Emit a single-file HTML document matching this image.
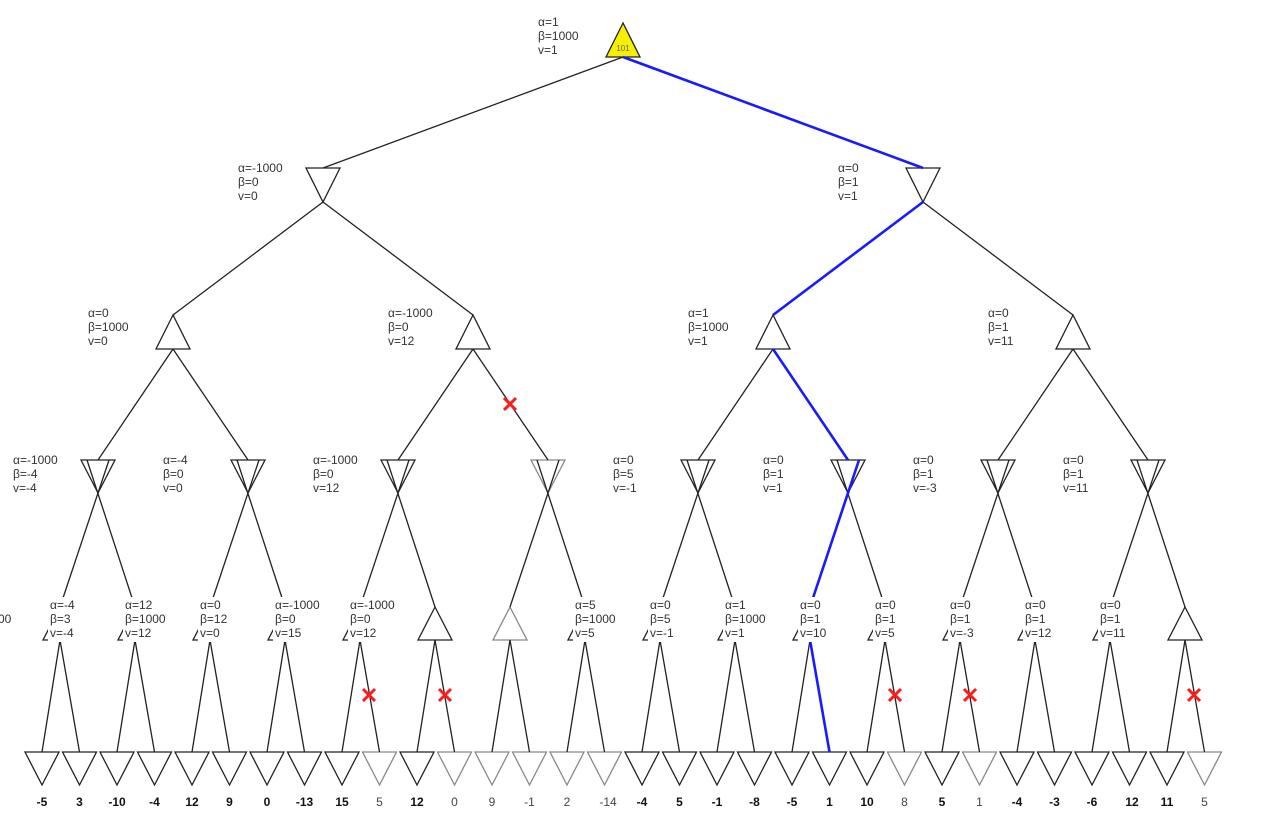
<!DOCTYPE html>
<html><head><meta charset="utf-8"><style>
html,body{margin:0;padding:0;background:#fff;}
svg text{font-family:"Liberation Sans",sans-serif;font-size:12px;fill:#333;}
.lf{font-weight:bold;fill:#111;text-anchor:middle;}
.lg{fill:#444;text-anchor:middle;}
</style></head><body>
<svg width="1273" height="826" viewBox="0 0 1273 826" xmlns="http://www.w3.org/2000/svg">
<g stroke="#222" stroke-width="1.3" fill="#fff">
<polygon points="306,168 340,168 323,202"/>
<polygon points="906,168 940,168 923,202"/>
<polygon points="173,315 156,349 190,349"/>
<polygon points="473,315 456,349 490,349"/>
<polygon points="773,315 756,349 790,349"/>
<polygon points="1073,315 1056,349 1090,349"/>
<polygon points="81,460 115,460 98,493"/>
<polygon points="231,460 265,460 248,493"/>
<polygon points="381,460 415,460 398,493"/>
<polygon points="531,460 565,460 548,493" stroke="#888"/>
<polygon points="681,460 715,460 698,493"/>
<polygon points="831,460 865,460 848,493"/>
<polygon points="981,460 1015,460 998,493"/>
<polygon points="1131,460 1165,460 1148,493"/>
<polygon points="60,607 43,640 77,640"/>
<polygon points="135,607 118,640 152,640"/>
<polygon points="210,607 193,640 227,640"/>
<polygon points="285,607 268,640 302,640"/>
<polygon points="360,607 343,640 377,640"/>
<polygon points="435,607 418,640 452,640"/>
<polygon points="510,607 493,640 527,640" stroke="#888"/>
<polygon points="585,607 568,640 602,640"/>
<polygon points="660,607 643,640 677,640"/>
<polygon points="735,607 718,640 752,640"/>
<polygon points="810,607 793,640 827,640"/>
<polygon points="885,607 868,640 902,640"/>
<polygon points="960,607 943,640 977,640"/>
<polygon points="1035,607 1018,640 1052,640"/>
<polygon points="1110,607 1093,640 1127,640"/>
<polygon points="1185,607 1168,640 1202,640"/>
<polygon points="25,752 59,752 42,785"/>
<polygon points="62.5,752 96.5,752 79.5,785"/>
<polygon points="100,752 134,752 117,785"/>
<polygon points="137.5,752 171.5,752 154.5,785"/>
<polygon points="175,752 209,752 192,785"/>
<polygon points="212.5,752 246.5,752 229.5,785"/>
<polygon points="250,752 284,752 267,785"/>
<polygon points="287.5,752 321.5,752 304.5,785"/>
<polygon points="325,752 359,752 342,785"/>
<polygon points="362.5,752 396.5,752 379.5,785" stroke="#888"/>
<polygon points="400,752 434,752 417,785"/>
<polygon points="437.5,752 471.5,752 454.5,785" stroke="#888"/>
<polygon points="475,752 509,752 492,785" stroke="#888"/>
<polygon points="512.5,752 546.5,752 529.5,785" stroke="#888"/>
<polygon points="550,752 584,752 567,785" stroke="#888"/>
<polygon points="587.5,752 621.5,752 604.5,785" stroke="#888"/>
<polygon points="625,752 659,752 642,785"/>
<polygon points="662.5,752 696.5,752 679.5,785"/>
<polygon points="700,752 734,752 717,785"/>
<polygon points="737.5,752 771.5,752 754.5,785"/>
<polygon points="775,752 809,752 792,785"/>
<polygon points="812.5,752 846.5,752 829.5,785"/>
<polygon points="850,752 884,752 867,785"/>
<polygon points="887.5,752 921.5,752 904.5,785" stroke="#888"/>
<polygon points="925,752 959,752 942,785"/>
<polygon points="962.5,752 996.5,752 979.5,785" stroke="#888"/>
<polygon points="1000,752 1034,752 1017,785"/>
<polygon points="1037.5,752 1071.5,752 1054.5,785"/>
<polygon points="1075,752 1109,752 1092,785"/>
<polygon points="1112.5,752 1146.5,752 1129.5,785"/>
<polygon points="1150,752 1184,752 1167,785"/>
<polygon points="1187.5,752 1221.5,752 1204.5,785" stroke="#888"/>
</g>
<polygon points="623,23 606,57 640,57" fill="#f5f000" stroke="#222" stroke-width="1.3"/>
<text x="623" y="51" style="font-size:8px;fill:#666;text-anchor:middle">101</text>
<g stroke="#222" stroke-width="1.3" fill="none">
<line x1="623" y1="57" x2="323" y2="168"/>
<line x1="323" y1="202" x2="173" y2="315"/>
<line x1="323" y1="202" x2="473" y2="315"/>
<line x1="923" y1="202" x2="1073" y2="315"/>
<line x1="173" y1="349" x2="98" y2="460"/>
<line x1="173" y1="349" x2="248" y2="460"/>
<line x1="473" y1="349" x2="398" y2="460"/>
<line x1="473" y1="349" x2="548" y2="460"/>
<line x1="773" y1="349" x2="698" y2="460"/>
<line x1="1073" y1="349" x2="998" y2="460"/>
<line x1="1073" y1="349" x2="1148" y2="460"/>
<line x1="60" y1="607" x2="109" y2="460"/><line x1="135" y1="607" x2="87" y2="460"/>
<line x1="210" y1="607" x2="259" y2="460"/><line x1="285" y1="607" x2="237" y2="460"/>
<line x1="360" y1="607" x2="409" y2="460"/><line x1="435" y1="607" x2="387" y2="460"/>
<line x1="510" y1="607" x2="559" y2="460"/><line x1="585" y1="607" x2="537" y2="460"/>
<line x1="660" y1="607" x2="709" y2="460"/><line x1="735" y1="607" x2="687" y2="460"/>
<line x1="885" y1="607" x2="837" y2="460"/>
<line x1="960" y1="607" x2="1009" y2="460"/><line x1="1035" y1="607" x2="987" y2="460"/>
<line x1="1110" y1="607" x2="1159" y2="460"/><line x1="1185" y1="607" x2="1137" y2="460"/>
<line x1="60" y1="640" x2="42" y2="752"/><line x1="60" y1="640" x2="79.5" y2="752"/>
<line x1="135" y1="640" x2="117" y2="752"/><line x1="135" y1="640" x2="154.5" y2="752"/>
<line x1="210" y1="640" x2="192" y2="752"/><line x1="210" y1="640" x2="229.5" y2="752"/>
<line x1="285" y1="640" x2="267" y2="752"/><line x1="285" y1="640" x2="304.5" y2="752"/>
<line x1="360" y1="640" x2="342" y2="752"/><line x1="360" y1="640" x2="379.5" y2="752"/>
<line x1="435" y1="640" x2="417" y2="752"/><line x1="435" y1="640" x2="454.5" y2="752"/>
<line x1="510" y1="640" x2="492" y2="752"/><line x1="510" y1="640" x2="529.5" y2="752"/>
<line x1="585" y1="640" x2="567" y2="752"/><line x1="585" y1="640" x2="604.5" y2="752"/>
<line x1="660" y1="640" x2="642" y2="752"/><line x1="660" y1="640" x2="679.5" y2="752"/>
<line x1="735" y1="640" x2="717" y2="752"/><line x1="735" y1="640" x2="754.5" y2="752"/>
<line x1="810" y1="640" x2="792" y2="752"/>
<line x1="885" y1="640" x2="867" y2="752"/><line x1="885" y1="640" x2="904.5" y2="752"/>
<line x1="960" y1="640" x2="942" y2="752"/><line x1="960" y1="640" x2="979.5" y2="752"/>
<line x1="1035" y1="640" x2="1017" y2="752"/><line x1="1035" y1="640" x2="1054.5" y2="752"/>
<line x1="1110" y1="640" x2="1092" y2="752"/><line x1="1110" y1="640" x2="1129.5" y2="752"/>
<line x1="1185" y1="640" x2="1167" y2="752"/><line x1="1185" y1="640" x2="1204.5" y2="752"/>
</g>
<g stroke="#1a1aff" stroke-width="2.6" fill="none">
<line x1="623" y1="57" x2="923" y2="168"/>
<line x1="923" y1="202" x2="773" y2="315"/>
<line x1="773" y1="349" x2="848" y2="460"/>
<line x1="810" y1="607" x2="859" y2="460"/>
<line x1="810" y1="640" x2="829.5" y2="752"/>
</g>
<g fill="#fff">
<rect x="48" y="597" width="58" height="45"/>
<rect x="123" y="597" width="58" height="45"/>
<rect x="198" y="597" width="58" height="45"/>
<rect x="273" y="597" width="58" height="45"/>
<rect x="348" y="597" width="58" height="45"/>
<rect x="573" y="597" width="58" height="45"/>
<rect x="648" y="597" width="58" height="45"/>
<rect x="723" y="597" width="58" height="45"/>
<rect x="798" y="597" width="58" height="45"/>
<rect x="873" y="597" width="58" height="45"/>
<rect x="948" y="597" width="58" height="45"/>
<rect x="1023" y="597" width="58" height="45"/>
<rect x="1098" y="597" width="58" height="45"/>
</g>
<g stroke="#ff1a1a" stroke-width="3">
<path d="M504,398 L516,410 M516,398 L504,410"/>
<path d="M363,689 L375,701 M375,689 L363,701"/>
<path d="M439,689 L451,701 M451,689 L439,701"/>
<path d="M889,689 L901,701 M901,689 L889,701"/>
<path d="M964,689 L976,701 M976,689 L964,701"/>
<path d="M1188,689 L1200,701 M1200,689 L1188,701"/>
</g>
<text x="538" y="26">α=1</text><text x="538" y="40">β=1000</text><text x="538" y="54">v=1</text>
<text x="238" y="172">α=-1000</text><text x="238" y="186">β=0</text><text x="238" y="200">v=0</text>
<text x="838" y="172">α=0</text><text x="838" y="186">β=1</text><text x="838" y="200">v=1</text>
<text x="88" y="317">α=0</text><text x="88" y="331">β=1000</text><text x="88" y="345">v=0</text>
<text x="388" y="317">α=-1000</text><text x="388" y="331">β=0</text><text x="388" y="345">v=12</text>
<text x="688" y="317">α=1</text><text x="688" y="331">β=1000</text><text x="688" y="345">v=1</text>
<text x="988" y="317">α=0</text><text x="988" y="331">β=1</text><text x="988" y="345">v=11</text>
<text x="13" y="464">α=-1000</text><text x="13" y="478">β=-4</text><text x="13" y="492">v=-4</text>
<text x="163" y="464">α=-4</text><text x="163" y="478">β=0</text><text x="163" y="492">v=0</text>
<text x="313" y="464">α=-1000</text><text x="313" y="478">β=0</text><text x="313" y="492">v=12</text>
<text x="613" y="464">α=0</text><text x="613" y="478">β=5</text><text x="613" y="492">v=-1</text>
<text x="763" y="464">α=0</text><text x="763" y="478">β=1</text><text x="763" y="492">v=1</text>
<text x="913" y="464">α=0</text><text x="913" y="478">β=1</text><text x="913" y="492">v=-3</text>
<text x="1063" y="464">α=0</text><text x="1063" y="478">β=1</text><text x="1063" y="492">v=11</text>
<text x="-2" y="623">00</text>
<text x="50" y="609">α=-4</text><text x="50" y="623">β=3</text><text x="50" y="637">v=-4</text>
<text x="125" y="609">α=12</text><text x="125" y="623">β=1000</text><text x="125" y="637">v=12</text>
<text x="200" y="609">α=0</text><text x="200" y="623">β=12</text><text x="200" y="637">v=0</text>
<text x="275" y="609">α=-1000</text><text x="275" y="623">β=0</text><text x="275" y="637">v=15</text>
<text x="350" y="609">α=-1000</text><text x="350" y="623">β=0</text><text x="350" y="637">v=12</text>
<text x="575" y="609">α=5</text><text x="575" y="623">β=1000</text><text x="575" y="637">v=5</text>
<text x="650" y="609">α=0</text><text x="650" y="623">β=5</text><text x="650" y="637">v=-1</text>
<text x="725" y="609">α=1</text><text x="725" y="623">β=1000</text><text x="725" y="637">v=1</text>
<text x="800" y="609">α=0</text><text x="800" y="623">β=1</text><text x="800" y="637">v=10</text>
<text x="875" y="609">α=0</text><text x="875" y="623">β=1</text><text x="875" y="637">v=5</text>
<text x="950" y="609">α=0</text><text x="950" y="623">β=1</text><text x="950" y="637">v=-3</text>
<text x="1025" y="609">α=0</text><text x="1025" y="623">β=1</text><text x="1025" y="637">v=12</text>
<text x="1100" y="609">α=0</text><text x="1100" y="623">β=1</text><text x="1100" y="637">v=11</text>
<text class="lf" x="42" y="806">-5</text>
<text class="lf" x="79.5" y="806">3</text>
<text class="lf" x="117" y="806">-10</text>
<text class="lf" x="154.5" y="806">-4</text>
<text class="lf" x="192" y="806">12</text>
<text class="lf" x="229.5" y="806">9</text>
<text class="lf" x="267" y="806">0</text>
<text class="lf" x="304.5" y="806">-13</text>
<text class="lf" x="342" y="806">15</text>
<text class="lg" x="379.5" y="806">5</text>
<text class="lf" x="417" y="806">12</text>
<text class="lg" x="454.5" y="806">0</text>
<text class="lg" x="492" y="806">9</text>
<text class="lg" x="529.5" y="806">-1</text>
<text class="lg" x="567" y="806">2</text>
<text class="lg" x="608" y="806">-14</text>
<text class="lf" x="642" y="806">-4</text>
<text class="lf" x="679.5" y="806">5</text>
<text class="lf" x="717" y="806">-1</text>
<text class="lf" x="754.5" y="806">-8</text>
<text class="lf" x="792" y="806">-5</text>
<text class="lf" x="829.5" y="806">1</text>
<text class="lf" x="867" y="806">10</text>
<text class="lg" x="904.5" y="806">8</text>
<text class="lf" x="942" y="806">5</text>
<text class="lg" x="979.5" y="806">1</text>
<text class="lf" x="1017" y="806">-4</text>
<text class="lf" x="1054.5" y="806">-3</text>
<text class="lf" x="1092" y="806">-6</text>
<text class="lf" x="1132" y="806">12</text>
<text class="lf" x="1167" y="806">11</text>
<text class="lg" x="1204.5" y="806">5</text>
</svg>
</body></html>
